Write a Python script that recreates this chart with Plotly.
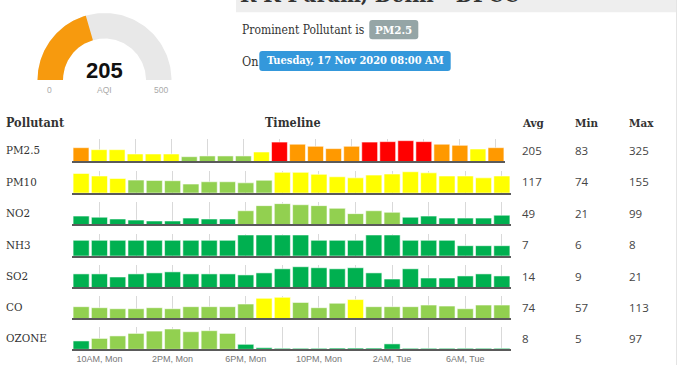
import numpy as np
import plotly.graph_objects as go

# ---------------- data ----------------
station = "R K Puram, Delhi - DPCC"
prominent = "PM2.5"
timestamp = "Tuesday, 17 Nov 2020 08:00 AM"
aqi_value = 205
aqi_max = 500

pollutants = ["PM2.5", "PM10", "NO2", "NH3", "SO2", "CO", "OZONE"]
avg_vals = [205, 117, 49, 7, 14, 74, 8]
min_vals = [83, 74, 21, 6, 9, 57, 5]
max_vals = [325, 155, 99, 8, 21, 113, 97]

hours = ["9AM, Mon", "10AM, Mon", "11AM, Mon", "12PM, Mon", "1PM, Mon", "2PM, Mon",
         "3PM, Mon", "4PM, Mon", "5PM, Mon", "6PM, Mon", "7PM, Mon", "8PM, Mon",
         "9PM, Mon", "10PM, Mon", "11PM, Mon", "12AM, Tue", "1AM, Tue", "2AM, Tue",
         "3AM, Tue", "4AM, Tue", "5AM, Tue", "6AM, Tue", "7AM, Tue", "8AM, Tue"]
tick_labels = ["10AM, Mon", "2PM, Mon", "6PM, Mon", "10PM, Mon", "2AM, Tue", "6AM, Tue"]

pm25 = [219, 189, 189, 124, 124, 124, 83, 94, 94, 94, 154, 304,
        271, 240, 205, 240, 304, 310, 325, 310, 271, 255, 199, 219]
pm10 = [144, 127, 111, 100, 98, 96, 74, 89, 89, 82, 99, 151,
        151, 138, 122, 115, 133, 140, 155, 148, 127, 127, 115, 127]
no2 = [43, 38, 30, 25, 21, 21, 34, 30, 30, 67, 90, 99,
       94, 90, 78, 54, 67, 60, 38, 43, 34, 34, 34, 47]
nh3 = [7, 7, 7, 7, 7, 7, 7, 7, 7, 8, 8, 8,
       8, 7, 7, 7, 8, 8, 7, 7, 7, 6, 6, 6]
so2 = [14, 14, 11, 14, 15, 16, 14, 14, 14, 13, 15, 19,
       21, 20, 19, 20, 15, 9, 19, 10, 10, 12, 14, 12]
co = [67, 62, 57, 57, 62, 57, 67, 67, 67, 80, 108, 113,
      88, 62, 84, 102, 67, 67, 67, 75, 70, 57, 75, 75]
ozone = [40, 52, 64, 76, 87, 97, 84, 89, 76, 24, 8, 5,
         5, 5, 6, 6, 6, 26, 5, 5, 5, 5, 5, 5]
series = [pm25, pm10, no2, nh3, so2, co, ozone]

# ---------------- style / layout ----------------
W, H = 680, 365
def X(px): return px / W
def Y(py): return 1 - py / H

def aqi_color(v):
    if v <= 50: return "#00B050"
    if v <= 100: return "#92D050"
    if v <= 200: return "#FFFF00"
    if v <= 300: return "#FF9900"
    if v <= 400: return "#FF0000"
    return "#C00000"

row_bottom = [161, 192.7, 224.3, 255.7, 287, 318.3, 349]
row_h = 22
row_left = 72
row_right = [505, 511, 511, 511, 511, 511, 511]
y_ranges = [[18, 350], [17, 162], [6, 105], [4.13, 8.24], [1.2, 22.7], [10, 118], [1.6, 106.5]]

SERIF = "DejaVu Serif Condensed, DejaVu Serif, serif"
SANS = "Open Sans, Liberation Sans, sans-serif"
ARIAL = "Liberation Sans, Arial, sans-serif"

fig = go.Figure()
layout = dict(width=W, height=H, margin=dict(l=0, r=0, t=0, b=0),
              paper_bgcolor="white", plot_bgcolor="white", showlegend=False,
              bargap=0.12)

grid_vals = hours[1::2]
grid_text = [h if h in tick_labels else "" for h in grid_vals]

for i, vals in enumerate(series):
    n = i + 1
    xa = "x" if n == 1 else f"x{n}"
    ya = "y" if n == 1 else f"y{n}"
    fig.add_trace(go.Bar(x=hours, y=vals, xaxis=xa, yaxis=ya,
                         marker=dict(color=[aqi_color(v) for v in vals],
                                     line=dict(color="rgba(255,255,255,0.55)", width=1)),
                         hoverinfo="x+y"))
    xk = "xaxis" if n == 1 else f"xaxis{n}"
    yk = "yaxis" if n == 1 else f"yaxis{n}"
    layout[xk] = dict(domain=[X(row_left), X(row_right[i])], anchor=ya, type="category",
                      categoryorder="array", categoryarray=hours,
                      range=[-0.5, 23.5], showgrid=True, gridcolor="#d9d9d9", gridwidth=1,
                      tickvals=grid_vals, ticktext=grid_text, ticks="",
                      showticklabels=(n == 7),
                      tickfont=dict(family=ARIAL, size=9, color="#777"),
                      showline=True, linecolor="#5a5a5a", linewidth=2, zeroline=False, fixedrange=True)
    layout[yk] = dict(domain=[Y(row_bottom[i]), Y(row_bottom[i] - row_h)], anchor=xa,
                      range=y_ranges[i], visible=False, fixedrange=True)

# gauge on its own pixel-like axes
gcx, gcy, R, r = 104.5, 80, 67, 41.5
def arc_poly(frac):
    th = np.linspace(np.pi, np.pi - np.pi * frac, 120)
    xs = np.concatenate([gcx + R * np.cos(th), gcx + r * np.cos(th[::-1])])
    ys = np.concatenate([gcy - R * np.sin(th), gcy - r * np.sin(th[::-1])])
    return list(xs) + [xs[0]], list(ys) + [ys[0]]

bx, by = arc_poly(1.0)
fig.add_trace(go.Scatter(x=bx, y=by, xaxis="x8", yaxis="y8", mode="lines", fill="toself",
                         fillcolor="#E8E8E8", line=dict(width=0, color="#E8E8E8"), hoverinfo="skip"))
vx, vy = arc_poly(aqi_value / aqi_max)
fig.add_trace(go.Scatter(x=vx, y=vy, xaxis="x8", yaxis="y8", mode="lines", fill="toself",
                         fillcolor="#F79A0E", line=dict(width=0, color="#F79A0E"), hoverinfo="skip"))
layout["xaxis8"] = dict(domain=[0, 0.3], range=[0, 0.3 * W], visible=False, anchor="y8", fixedrange=True)
layout["yaxis8"] = dict(domain=[Y(110), 1], range=[110, 0], visible=False, anchor="x8", fixedrange=True)

def rrect(x0, y0, x1, y1, rad, color):
    pts = [f"M{X(x0 + rad)},{Y(y0)}", f"L{X(x1 - rad)},{Y(y0)}", f"Q{X(x1)},{Y(y0)} {X(x1)},{Y(y0 + rad)}",
           f"L{X(x1)},{Y(y1 - rad)}", f"Q{X(x1)},{Y(y1)} {X(x1 - rad)},{Y(y1)}",
           f"L{X(x0 + rad)},{Y(y1)}", f"Q{X(x0)},{Y(y1)} {X(x0)},{Y(y1 - rad)}",
           f"L{X(x0)},{Y(y0 + rad)}", f"Q{X(x0)},{Y(y0)} {X(x0 + rad)},{Y(y0)}", "Z"]
    return dict(type="path", xref="paper", yref="paper", path=" ".join(pts),
                fillcolor=color, line=dict(width=0))

shapes = []
shapes.append(dict(type="rect", xref="paper", yref="paper", x0=X(236), x1=X(677), y0=Y(12.3), y1=1,
                   fillcolor="#EEEEEE", line=dict(width=0), layer="below"))
shapes.append(dict(type="line", xref="paper", yref="paper", x0=X(676.5), x1=X(676.5), y0=0, y1=1,
                   line=dict(color="#E4E4E4", width=1)))
shapes.append(rrect(369.3, 20, 418.3, 39.3, 3, "#95A5A6"))
shapes.append(rrect(259.3, 51, 450.7, 71, 3, "#3498DB"))

ann = []
def text(px, py, s, size, color, family, bold=False, anchor="left"):
    ann.append(dict(x=X(px), y=Y(py), xref="paper", yref="paper", text=f"<b>{s}</b>" if bold else s,
                    showarrow=False, xanchor=anchor, yanchor="middle", borderpad=0,
                    font=dict(size=size, color=color, family=family)))

# title (mostly cut off at top)
text(239, -6.5, station, 22, "#333", SERIF, bold=True)
text(240.5, 30, "Prominent Pollutant is", 12, "#333", SERIF)
text(393.8, 29.7, prominent, 11.5, "white", SERIF, bold=True, anchor="center")
text(240.5, 62, "On", 12.5, "#333", SERIF)
text(355, 61, timestamp, 11, "white", SERIF, bold=True, anchor="center")

# gauge texts
text(gcx, 71, str(aqi_value), 22, "#111", ARIAL, bold=True, anchor="center")
text(49.5, 90, "0", 8.5, "#aaa", ARIAL, anchor="center")
text(gcx, 90, "AQI", 8.5, "#aaa", ARIAL, anchor="center")
text(160.5, 90, str(aqi_max), 8.5, "#aaa", ARIAL, anchor="center")

# headers
hy = 122.7
text(5, hy, "Pollutant", 12.5, "#333", SERIF, bold=True)
text(292.5, hy, "Timeline", 12.5, "#333", SERIF, bold=True, anchor="center")
text(520.5, hy, "Avg", 11.5, "#333", SERIF, bold=True)
text(573.5, hy, "Min", 11.5, "#333", SERIF, bold=True)
text(627.5, hy, "Max", 11.5, "#333", SERIF, bold=True)

for i, p in enumerate(pollutants):
    cy = row_bottom[i] - 11
    text(5, cy, p, 11.5, "#333", SERIF)
    text(520.5, cy, str(avg_vals[i]), 11.5, "#444", SANS)
    text(573.5, cy, str(min_vals[i]), 11.5, "#444", SANS)
    text(627.5, cy, str(max_vals[i]), 11.5, "#444", SANS)

layout["shapes"] = shapes
layout["annotations"] = ann
fig.update_layout(**layout)
fig.write_html("out.html", config={"displayModeBar": False},
               post_script="document.body.style.margin='0';document.body.style.overflow='hidden';")
